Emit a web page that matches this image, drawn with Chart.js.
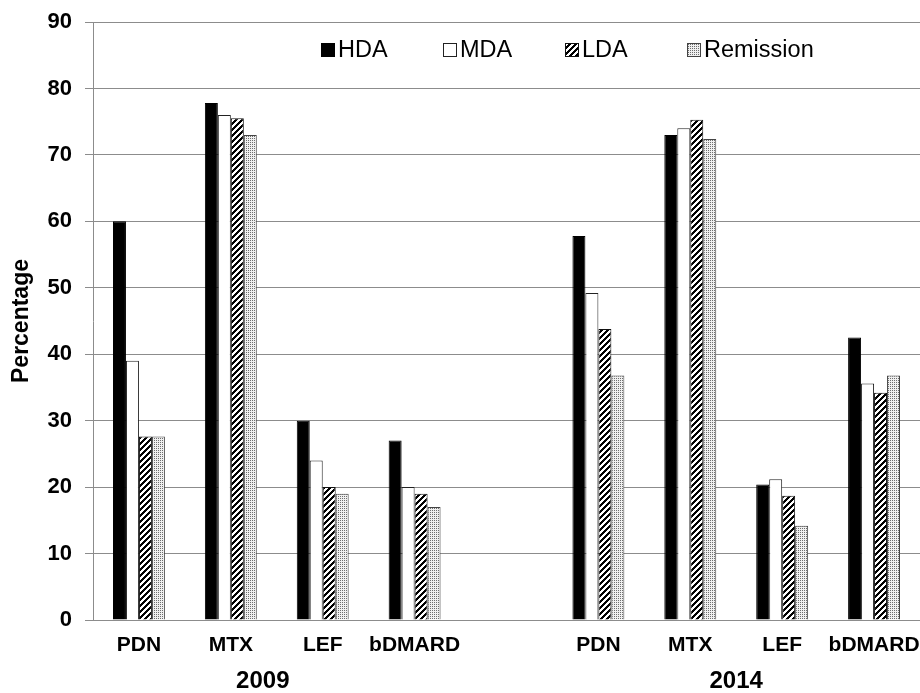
<!DOCTYPE html>
<html>
<head>
<meta charset="utf-8">
<script src="https://cdn.jsdelivr.net/npm/chart.js@4.4.0/dist/chart.umd.min.js"></script>
<style>
  html, body { margin: 0; padding: 0; background: #fff; }
  #wrap { width: 920px; height: 693px; }
</style>
</head>
<body>
<div id="wrap"><canvas id="chart"></canvas></div>
<script>
// categories: 4 drugs for 2009, an empty slot, 4 drugs for 2014
const categories = ['PDN', 'MTX', 'LEF', 'bDMARD', '', 'PDN', 'MTX', 'LEF', 'bDMARD']
const years = ['2009', '2014']
const seriesNames = ['HDA', 'MDA', 'LDA', 'Remission']

const hda = [60, 77.8, 30, 27, null, 57.8, 73, 20.4, 42.5]
const mda = [39, 76, 24, 20, null, 49.2, 74, 21.2, 35.6]
const lda = [27.6, 75.5, 20, 19, null, 43.8, 75.3, 18.7, 34.2]
const remission = [27.6, 73, 19, 17, null, 36.8, 72.4, 14.2, 36.8]

const yMin = 0
const yMax = 90
const yStep = 10

const FONT = "'Liberation Sans', Arial, sans-serif"

// pixel patterns for the black & white fills
function makePattern(size, paint) {
  const c = document.createElement('canvas')
  c.width = size
  c.height = size
  const g = c.getContext('2d')
  const img = g.createImageData(size, size)
  for (let y = 0; y < size; y++) {
    for (let x = 0; x < size; x++) {
      const v = paint(x, y)
      const i = (y * size + x) * 4
      img.data[i] = img.data[i + 1] = img.data[i + 2] = v
      img.data[i + 3] = 255
    }
  }
  g.putImageData(img, 0, 0)
  return document.createElement('canvas').getContext('2d').createPattern(c, 'repeat')
}

const hatch = makePattern(6, (x, y) => ((x + y) % 6 < 3 ? 0 : 255))
const dots = makePattern(4, (x, y) => ((x + y) % 2 === 0 && x % 2 === 0 ? 110 : 240))

const fills = ['#000', '#fff', hatch, dots]
const edges = ['#000', '#222', '#111', '#444']
const seriesData = [hda, mda, lda, remission]

// legend drawn inside the plot, equal column widths
const insideLegend = {
  id: 'insideLegend',
  afterDraw(chart) {
    const ctx = chart.ctx
    const startX = 321
    const colW = 122
    const y = 50
    ctx.save()
    ctx.font = '23.5px ' + FONT
    ctx.textBaseline = 'middle'
    chart.data.datasets.forEach((ds, i) => {
      const x = startX + i * colW
      ctx.fillStyle = ds.backgroundColor
      ctx.fillRect(x, y - 7, 14, 14)
      ctx.strokeStyle = ds.borderColor
      ctx.lineWidth = 1
      ctx.strokeRect(x + 0.5, y - 6.5, 13, 13)
      ctx.fillStyle = '#000'
      ctx.fillText(ds.label, x + 17, y + 1)
    })
    ctx.restore()
  }
}

// the year row under the category labels
const yearLabels = {
  id: 'yearLabels',
  afterDraw(chart) {
    const xs = chart.scales.x
    const ctx = chart.ctx
    ctx.save()
    ctx.font = 'bold 24px ' + FONT
    ctx.textAlign = 'center'
    ctx.textBaseline = 'middle'
    ctx.fillStyle = '#000'
    const c1 = (xs.getPixelForValue(0) + xs.getPixelForValue(3)) / 2 - 14
    const c2 = (xs.getPixelForValue(5) + xs.getPixelForValue(8)) / 2
    ctx.fillText(years[0], c1, 681)
    ctx.fillText(years[1], c2, 681)
    ctx.restore()
  }
}

const ctx = document.getElementById('chart').getContext('2d')
const chart = new Chart(ctx, {
  type: 'bar',
  data: {
    labels: categories,
    datasets: seriesNames.map((name, i) => ({
      label: name,
      data: seriesData[i],
      backgroundColor: fills[i],
      borderColor: edges[i],
      borderWidth: 1,
      borderSkipped: 'bottom',
      categoryPercentage: 0.565,
      barPercentage: 1,
    })),
  },
  options: {
    responsive: true,
    maintainAspectRatio: false,
    animation: false,
    layout: { padding: { top: 22, right: 0, left: 0, bottom: 0 } },
    plugins: {
      legend: { display: false },
      tooltip: { enabled: false },
    },
    scales: {
      x: {
        grid: { display: false, drawTicks: false },
        border: { display: true, color: '#8c8c8c', width: 1 },
        ticks: {
          color: '#000',
          font: { family: FONT, size: 21, weight: 'bold' },
          padding: 13,
          maxRotation: 0,
          autoSkip: false,
        },
        afterFit(scale) {
          scale.height = 73
          scale.paddingLeft = 0
          scale.paddingRight = 0
        },
      },
      y: {
        min: yMin,
        max: yMax,
        grid: { color: '#8c8c8c', lineWidth: 1, tickLength: 8 },
        border: { display: true, color: '#8c8c8c', width: 1 },
        ticks: {
          stepSize: yStep,
          color: '#000',
          font: { family: FONT, size: 22, weight: 'bold' },
          padding: 13,
        },
        title: {
          display: true,
          text: 'Percentage',
          color: '#000',
          font: { family: FONT, size: 23, weight: 'bold' },
          padding: { top: 8, bottom: 0 },
        },
        afterFit(scale) {
          scale.width = 93
          scale.paddingTop = 0
          scale.paddingBottom = 0
        },
      },
    },
  },
  plugins: [insideLegend, yearLabels],
})
</script>
</body>
</html>
